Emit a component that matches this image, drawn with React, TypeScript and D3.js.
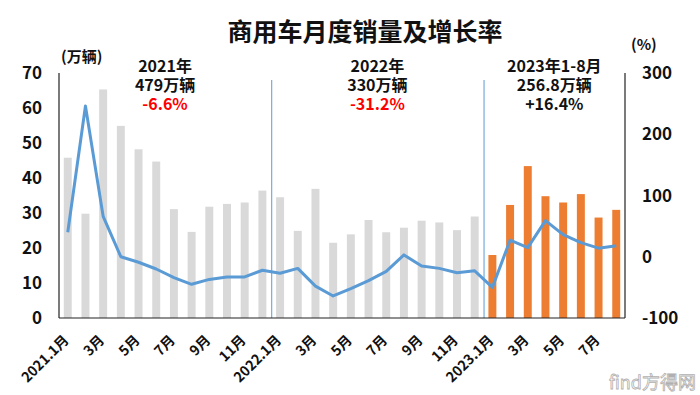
import { useRef, useEffect } from "react";
import * as d3 from "d3";

// monthly labels (every month), only odd months get a tick label
const months = [
  "2021.1月", "2月", "3月", "4月", "5月", "6月", "7月", "8月", "9月", "10月", "11月", "12月",
  "2022.1月", "2月", "3月", "4月", "5月", "6月", "7月", "8月", "9月", "10月", "11月", "12月",
  "2023.1月", "2月", "3月", "4月", "5月", "6月", "7月", "8月",
];
// sales, 万辆
const sales = [
  45.8, 29.8, 65.3, 54.9, 48.2, 44.7, 31.1, 24.6, 31.8, 32.6, 33.0, 36.4,
  34.5, 24.9, 36.9, 21.5, 23.9, 28.0, 24.5, 25.8, 27.8, 27.3, 25.1, 29.0,
  18.0, 32.3, 43.4, 34.8, 33.0, 35.4, 28.7, 30.9,
];
// year-on-year growth, %
const growth = [
  40, 246, 66, 0, -9, -20, -34, -45, -37, -33, -33, -22,
  -27, -19, -48, -64, -52, -39, -24, 3, -15, -19, -26, -23,
  -50, 27, 15, 59, 36, 23, 14, 18,
];
const leftTicks = [0, 10, 20, 30, 40, 50, 60, 70];
const rightTicks = [-100, 0, 100, 200, 300];
const yearNotes = [
  { from: 0, to: 12, lines: ["2021年", "479万辆"], rate: "-6.6%", rateColor: "#ff0000" },
  { from: 12, to: 24, lines: ["2022年", "330万辆"], rate: "-31.2%", rateColor: "#ff0000" },
  { from: 24, to: 32, lines: ["2023年1-8月", "256.8万辆"], rate: "+16.4%", rateColor: "#111" },
];

export default function App() {
  const ref = useRef<SVGSVGElement>(null);

  useEffect(() => {
    if (!ref.current) return;
    const width = 700;
    const height = 395;
    const left = 59;
    const right = 625;
    const top = 73;
    const bottom = 318;
    const font = "'Noto Sans CJK SC', 'Noto Sans', sans-serif";

    const svg = d3.select(ref.current);
    svg.selectAll("*").remove();
    svg.attr("width", width).attr("height", height);

    const x = d3
      .scaleBand<number>()
      .domain(d3.range(months.length))
      .range([left, right])
      .paddingInner(0.55)
      .paddingOuter(0.27);
    const step = x.step();
    const cx = (i: number) => (x(i) ?? 0) + x.bandwidth() / 2;

    const y = d3.scaleLinear().domain([0, 70]).range([bottom, top]);
    const y2 = d3.scaleLinear().domain([-100, 300]).range([bottom, top]);

    // title
    svg.append("text")
      .attr("x", 365).attr("y", 41)
      .attr("text-anchor", "middle")
      .attr("font-family", font).attr("font-weight", 700).attr("font-size", 25)
      .attr("fill", "#111")
      .text("商用车月度销量及增长率");

    // bars
    svg.append("g")
      .selectAll("rect")
      .data(sales)
      .join("rect")
      .attr("x", (_, i) => x(i) ?? 0)
      .attr("width", x.bandwidth())
      .attr("y", (d) => y(d))
      .attr("height", (d) => bottom - y(d))
      .attr("fill", (_, i) => (i >= 24 ? "#ed7d31" : "#d9d9d9"));

    // year separators
    [12, 24].forEach((i) => {
      const sx = left + (x.paddingOuter() * step) + i * step - step * x.paddingInner() / 2 + 0.5;
      svg.append("line")
        .attr("x1", sx).attr("x2", sx)
        .attr("y1", 80).attr("y2", bottom)
        .attr("stroke", "#5b9bd5").attr("stroke-width", 1);
    });

    // growth line
    const line = d3
      .line<number>()
      .x((_, i) => cx(i))
      .y((d) => y2(d));
    svg.append("path")
      .datum(growth)
      .attr("d", line)
      .attr("fill", "none")
      .attr("stroke", "#5b9bd5")
      .attr("stroke-width", 3)
      .attr("stroke-linejoin", "round");

    // axes lines
    svg.append("line")
      .attr("x1", left).attr("x2", left).attr("y1", top).attr("y2", bottom)
      .attr("stroke", "#222").attr("stroke-width", 1.2);
    svg.append("line")
      .attr("x1", right).attr("x2", right).attr("y1", top).attr("y2", bottom)
      .attr("stroke", "#222").attr("stroke-width", 1.2);
    svg.append("line")
      .attr("x1", left).attr("x2", right).attr("y1", bottom).attr("y2", bottom)
      .attr("stroke", "#222").attr("stroke-width", 1.2);

    // left tick labels
    svg.append("g")
      .selectAll("text")
      .data(leftTicks)
      .join("text")
      .attr("x", 42)
      .attr("y", (d) => y(d))
      .attr("dy", "0.36em")
      .attr("text-anchor", "end")
      .attr("font-family", font).attr("font-weight", 700).attr("font-size", 17)
      .attr("fill", "#111")
      .text((d) => d);

    // right tick labels
    svg.append("g")
      .selectAll("text")
      .data(rightTicks)
      .join("text")
      .attr("x", 642)
      .attr("y", (d) => y2(d))
      .attr("dy", "0.36em")
      .attr("text-anchor", "start")
      .attr("font-family", font).attr("font-weight", 700).attr("font-size", 17)
      .attr("fill", "#111")
      .text((d) => d);

    // units
    svg.append("text")
      .attr("x", 61).attr("y", 62)
      .attr("font-family", font).attr("font-weight", 700).attr("font-size", 15)
      .attr("fill", "#111")
      .text("(万辆)");
    svg.append("text")
      .attr("x", 631).attr("y", 50)
      .attr("font-family", font).attr("font-weight", 700).attr("font-size", 15)
      .attr("fill", "#111")
      .text("(%)");

    // x labels (odd months)
    svg.append("g")
      .selectAll("text")
      .data(months.map((m, i) => ({ m, i })).filter((d) => d.i % 2 === 0))
      .join("text")
      .attr("transform", (d) => `translate(${cx(d.i) + 2},${bottom + 23}) rotate(-45)`)
      .attr("text-anchor", "end")
      .attr("font-family", font).attr("font-weight", 700).attr("font-size", 14)
      .attr("fill", "#111")
      .text((d) => d.m);

    // year annotations
    yearNotes.forEach((n) => {
      const mx = (cx(n.from) + cx(n.to - 1)) / 2;
      n.lines.forEach((l, k) => {
        svg.append("text")
          .attr("x", mx).attr("y", 72 + k * 19)
          .attr("text-anchor", "middle")
          .attr("font-family", font).attr("font-weight", 700).attr("font-size", 16)
          .attr("fill", "#111")
          .text(l);
      });
      svg.append("text")
        .attr("x", mx).attr("y", 110)
        .attr("text-anchor", "middle")
        .attr("font-family", font).attr("font-weight", 700).attr("font-size", 16)
        .attr("fill", n.rateColor)
        .text(n.rate);
    });

    // watermark logo bottom-right
    svg.append("text")
      .attr("x", 696).attr("y", 389)
      .attr("text-anchor", "end")
      .attr("font-family", font).attr("font-size", 18)
      .attr("fill", "#fff").attr("stroke", "#b0b0b0").attr("stroke-width", 0.8)
      .text("find方得网");
  });

  return (
    <svg ref={ref} style={{ position: "absolute", left: 0, top: 0, background: "#fff" }}></svg>
  );
}
